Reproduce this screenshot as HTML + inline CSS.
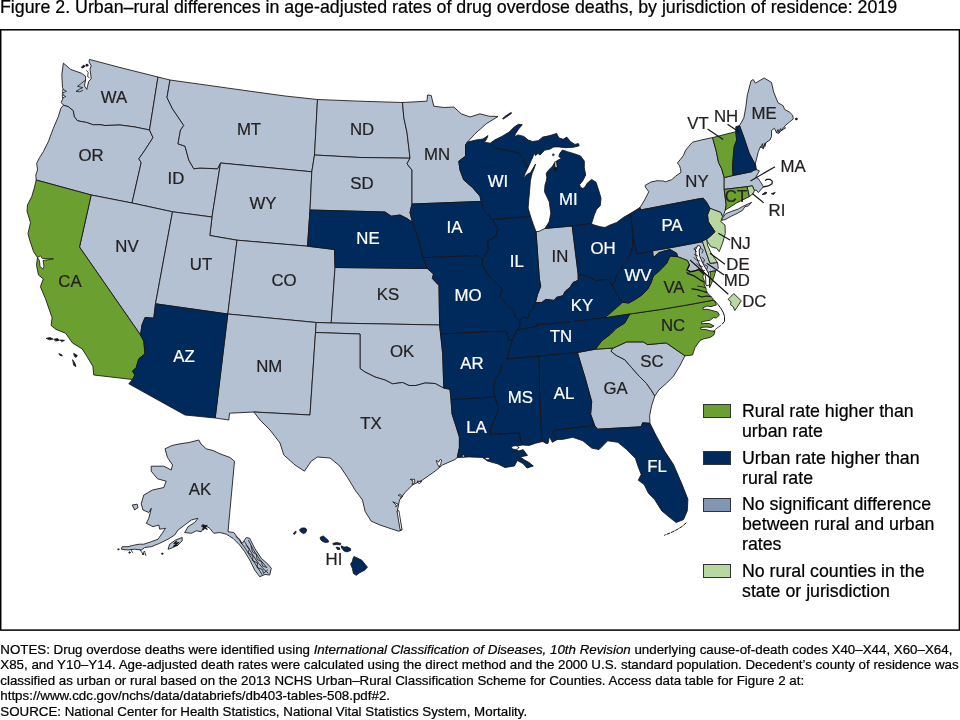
<!DOCTYPE html>
<html lang="en"><head><meta charset="utf-8"><title>Figure 2. Urban–rural differences in age-adjusted rates of drug overdose deaths</title>
<style>
html,body{margin:0;padding:0;background:#fff;}
body{-webkit-text-stroke:0.22px #000;width:960px;height:720px;position:relative;overflow:hidden;font-family:"Liberation Sans",Arial,sans-serif;color:#000;}
.t{position:absolute;left:0.3px;white-space:nowrap;}
#title{top:-3.2px;font-size:17.8px;line-height:20px;left:0px}
.n{font-size:13.345px;line-height:15.45px;}
svg{position:absolute;left:0;top:0;}
.lg{position:absolute;left:742px;font-size:17.75px;line-height:20px;white-space:nowrap;color:#000;}
.sw{position:absolute;left:703.2px;width:26px;height:12px;border:1px solid #333;}
</style></head><body>
<div class="t" id="title">Figure 2. Urban–rural differences in age-adjusted rates of drug overdose deaths, by jurisdiction of residence: 2019</div>
<svg width="960" height="720" viewBox="0 0 960 720">
<rect x="0.7" y="29.8" width="958.7" height="600.3" fill="none" stroke="#000" stroke-width="1.5"/>
<g stroke="#161214" stroke-width="0.85" stroke-linejoin="round">
<polygon points="89.4,59.4 120.0,67.5 158.0,77.0 149.5,130.0 135.0,127.0 120.0,125.0 105.0,125.5 100.0,124.7 93.3,124.8 86.7,122.5 77.5,120.8 74.2,116.7 73.3,110.8 68.3,106.7 63.5,105.2 61.2,102.5 63.7,96.5 62.5,93.0 64.5,91.0 62.5,87.5 61.8,75.0 63.4,63.1 70.6,69.4 81.2,73.1 85.6,76.2 85.5,80.0 84.5,86.0 86.9,89.4 87.5,86.2 88.8,81.2 91.2,78.8 90.6,73.1 90.0,69.4 91.2,65.6 89.0,61.9 89.4,59.4" fill="#b3c1d2"/>
<polygon points="63.5,105.2 68.3,106.7 73.3,110.8 74.2,116.7 77.5,120.8 86.7,122.5 93.3,124.8 100.0,124.7 105.0,125.5 120.0,125.0 135.0,127.0 149.5,130.0 153.0,137.5 145.0,150.0 138.8,158.8 141.2,162.5 132.0,203.0 91.2,195.0 36.2,180.0 35.8,175.0 37.5,170.0 36.7,163.3 39.2,158.3 43.3,151.7 48.3,141.7 53.3,128.3 58.3,116.7 60.8,108.3 63.5,105.2" fill="#b3c1d2"/>
<polygon points="158.0,77.0 170.0,80.0 167.0,97.5 172.5,108.8 183.8,125.5 180.5,130.0 178.0,143.8 185.0,146.2 188.8,160.0 193.8,168.8 200.0,168.0 217.5,168.8 220.5,163.0 212.0,217.0 172.5,211.8 132.0,203.0 141.2,162.5 138.8,158.8 145.0,150.0 153.0,137.5 149.5,130.0 158.0,77.0" fill="#b3c1d2"/>
<polygon points="170.0,80.0 200.0,84.2 250.0,91.2 285.0,96.0 317.5,99.5 314.5,155.0 311.8,171.8 220.5,163.0 217.5,168.8 200.0,168.0 193.8,168.8 188.8,160.0 185.0,146.2 178.0,143.8 180.5,130.0 183.8,125.5 172.5,108.8 167.0,97.5 170.0,80.0" fill="#b3c1d2"/>
<polygon points="220.5,163.0 311.8,171.8 310.0,210.0 307.5,246.2 237.0,240.2 209.8,235.5 212.0,217.0 220.5,163.0" fill="#b3c1d2"/>
<polygon points="317.5,99.5 360.0,101.2 402.5,102.5 403.8,117.5 407.0,132.5 408.8,147.5 410.0,158.2 360.0,157.5 314.5,155.0 317.5,99.5" fill="#b3c1d2"/>
<polygon points="314.5,155.0 360.0,157.5 410.0,158.2 407.0,163.8 412.0,170.0 412.0,204.0 410.0,212.5 412.5,222.5 407.5,218.8 400.0,215.0 391.2,216.2 385.0,212.0 310.0,210.0 311.8,171.8 314.5,155.0" fill="#b3c1d2"/>
<polygon points="91.2,195.0 132.0,203.0 172.5,211.8 155.5,303.8 153.8,318.2 145.0,317.5 142.0,325.0 140.5,335.0 79.5,247.0 91.2,195.0" fill="#b3c1d2"/>
<polygon points="172.5,211.8 212.0,217.0 209.8,235.5 237.0,240.2 227.8,314.0 155.5,303.8 172.5,211.8" fill="#b3c1d2"/>
<polygon points="237.0,240.2 307.5,246.2 334.5,249.5 335.0,267.5 331.2,323.0 316.2,322.5 227.8,314.0 237.0,240.2" fill="#b3c1d2"/>
<polygon points="227.8,314.0 316.2,322.5 315.5,332.5 310.0,415.0 253.8,412.0 229.5,413.2 228.8,420.0 215.2,418.0 227.8,314.0" fill="#b3c1d2"/>
<polygon points="335.0,267.5 427.3,268.5 433.5,274.0 432.4,278.5 439.0,285.5 439.6,325.0 331.2,323.0 335.0,267.5" fill="#b3c1d2"/>
<polygon points="316.2,322.5 331.2,323.0 439.6,325.0 440.6,334.0 442.7,353.8 443.8,388.1 435.0,383.5 425.0,383.0 416.0,385.5 409.0,385.5 402.5,382.5 392.5,383.8 385.0,380.0 375.0,377.0 365.0,372.0 360.0,368.5 360.0,334.0 315.5,332.5 316.2,322.5" fill="#b3c1d2"/>
<polygon points="315.5,332.5 360.0,334.0 360.0,368.5 365.0,372.0 375.0,377.0 385.0,380.0 392.5,383.8 402.5,382.5 409.0,385.5 416.0,385.5 425.0,383.0 435.0,383.5 443.8,388.1 450.0,389.2 451.0,399.6 452.1,414.2 456.2,426.7 459.4,437.1 459.4,447.5 457.3,457.5 455.0,459.5 442.5,465.0 435.0,471.2 422.5,480.0 412.5,485.0 405.0,492.5 399.5,500.0 397.5,510.0 400.0,520.0 402.0,530.0 398.8,531.2 391.2,528.8 380.0,525.0 371.2,521.2 365.0,511.2 362.5,500.0 355.0,490.0 347.5,477.5 340.0,466.2 330.0,458.0 317.5,457.0 311.2,461.2 304.5,471.2 295.0,465.0 283.8,455.0 280.0,443.0 270.0,430.0 260.0,420.0 253.8,412.0 310.0,415.0 315.5,332.5" fill="#b3c1d2"/>
<polygon points="402.5,102.5 427.0,101.2 427.5,95.0 431.2,95.5 433.8,106.2 443.8,107.5 453.8,107.0 461.2,113.8 470.0,117.0 480.0,113.8 488.8,116.2 498.0,116.5 486.2,123.8 475.0,133.8 467.5,142.0 465.5,145.0 465.5,156.2 458.8,161.2 460.0,170.0 463.8,180.0 472.5,187.5 480.0,196.2 481.2,201.4 412.0,204.0 412.0,170.0 407.0,163.8 410.0,158.2 408.8,147.5 407.0,132.5 403.8,117.5 402.5,102.5" fill="#b3c1d2"/>
<polygon points="536.0,231.7 539.2,231.3 545.0,228.4 572.2,226.0 578.2,274.5 578.2,280.3 573.0,282.6 570.0,287.5 565.5,291.0 562.8,295.8 556.5,297.4 554.2,300.4 545.8,299.4 541.7,302.5 535.4,302.5 537.5,294.5 540.7,286.2 539.4,279.0 536.0,231.7" fill="#b3c1d2"/>
<polygon points="577.4,352.5 595.4,349.2 613.1,348.1 611.0,351.2 616.2,355.4 624.6,359.6 631.9,367.9 639.2,376.2 646.5,383.5 651.7,390.8 654.8,396.0 651.7,405.4 649.6,415.8 650.0,423.3 642.7,422.8 641.2,426.8 597.5,429.2 594.7,425.7 590.6,414.2 591.7,401.7 585.4,378.8 577.4,352.5" fill="#b3c1d2"/>
<polygon points="613.1,348.1 626.7,341.9 643.3,341.9 647.5,344.6 666.2,342.9 685.0,355.8 679.8,365.8 673.5,376.2 666.2,383.5 659.0,389.8 654.8,396.0 651.7,390.8 646.5,383.5 639.2,376.2 631.9,367.9 624.6,359.6 616.2,355.4 611.0,351.2 613.1,348.1" fill="#b3c1d2"/>
<polygon points="652.5,250.8 670.0,247.8 702.5,241.7 710.0,263.3 717.5,262.5 718.3,268.3 715.8,270.8 710.0,271.7 707.0,273.0 703.5,273.8 698.8,269.6 693.8,271.2 690.5,271.6 686.9,270.0 689.4,265.0 687.5,260.6 682.5,258.5 677.5,256.7 676.7,253.3 670.0,249.5 665.0,250.8 659.2,252.5 653.3,257.5 652.5,250.8" fill="#b3c1d2"/>
<polygon points="640.0,207.5 644.6,200.0 648.8,191.7 645.6,187.5 645.1,185.4 650.8,182.1 657.1,180.7 663.3,181.0 665.4,181.8 671.7,179.7 675.8,176.0 681.0,172.4 680.5,168.8 679.5,165.6 677.4,163.0 680.0,159.9 683.6,155.2 685.2,151.0 688.3,146.9 692.5,142.2 702.9,139.6 712.6,137.6 716.5,152.1 718.5,162.5 721.7,168.8 724.2,177.5 724.2,189.4 726.2,205.0 725.2,210.2 724.0,214.0 722.5,216.5 720.8,212.5 710.0,208.3 706.7,202.5 703.3,198.3 700.2,198.6 640.5,210.0 640.0,207.5" fill="#b3c1d2"/>
<polygon points="722.3,218.4 725.8,213.6 732.0,211.2 738.3,209.0 742.5,206.5 751.7,202.3 748.3,206.0 745.0,206.6 742.5,210.4 737.0,213.5 731.7,216.0 725.0,219.6 722.0,220.2" fill="#b3c1d2"/>
<polygon points="739.5,125.6 743.8,118.1 745.9,106.5 747.4,94.8 751.0,80.9 753.2,79.5 755.4,83.1 764.2,78.0 771.5,82.4 773.6,91.9 778.0,102.8 783.1,105.7 784.6,109.4 789.7,112.3 792.6,115.2 793.3,118.9 789.7,121.8 784.6,126.1 785.3,128.3 781.5,130.0 778.8,133.4 776.6,132.7 774.4,128.3 771.5,130.5 771.5,136.4 770.0,140.0 766.4,142.2 764.8,145.0 763.4,148.8 760.5,146.5 758.3,151.7 756.9,157.5 755.4,163.3 755.8,166.5 755.0,164.2 749.2,153.3 744.2,138.3 739.5,125.6" fill="#b3c1d2"/>
<polygon points="724.2,177.5 733.0,175.5 751.7,171.7 754.0,170.0 756.5,169.6 759.4,170.8 757.5,174.2 755.8,177.3 758.3,178.5 760.4,181.7 763.4,186.7 760.6,190.0 758.3,192.6 756.3,190.0 754.4,190.4 752.3,185.8 747.1,186.7 724.2,189.4 724.2,177.5" fill="#b3c1d2"/>
<polygon points="165.0,448.8 172.0,445.5 180.0,443.8 189.0,442.5 198.8,440.0 201.0,444.0 206.2,448.8 213.0,450.5 220.0,453.8 230.0,457.5 234.5,461.2 228.0,531.7 233.8,532.5 238.0,538.3 242.2,543.3 246.3,537.5 249.7,538.3 254.7,548.3 261.3,558.3 268.0,564.2 271.3,568.3 269.7,575.0 265.0,574.5 259.7,576.7 254.7,570.0 249.7,560.0 244.7,551.7 239.7,545.0 233.0,538.3 226.3,534.2 219.7,532.5 213.8,533.3 209.7,528.3 204.7,525.0 201.3,531.7 196.3,530.8 191.3,533.3 184.7,532.5 188.0,526.7 194.7,522.5 198.0,518.3 191.3,520.0 184.7,525.0 178.0,530.0 174.7,535.0 168.0,539.2 159.7,543.3 151.3,546.7 144.7,547.5 141.3,550.0 134.7,549.2 128.0,550.0 121.3,549.2 122.2,546.7 128.0,546.7 134.7,545.0 139.7,544.2 143.8,544.2 151.3,541.7 158.0,539.2 162.2,533.3 165.5,528.3 159.7,529.2 158.8,525.0 153.0,526.7 146.3,523.3 148.8,518.3 151.3,508.3 148.8,512.5 143.0,510.0 141.2,503.8 143.8,495.0 152.5,490.0 163.8,487.5 166.2,481.2 157.5,478.8 151.2,471.2 151.2,466.2 163.8,466.2 171.2,470.0 172.5,465.0 167.5,457.5" fill="#b3c1d2"/>
<polygon points="169.7,544.2 175.5,540.0 182.2,537.5 182.2,540.8 178.0,545.0 171.3,548.3 168.0,549.2" fill="#b3c1d2"/>
<polygon points="132.2,505.0 137.2,504.2 138.0,507.5 134.7,510.0" fill="#b3c1d2"/>
<polygon points="702.5,241.7 704.0,240.0 706.7,239.2 707.5,245.0 710.8,252.5 715.8,260.0 717.5,262.5 710.0,263.3 702.5,241.7" fill="#b9d7a0"/>
<polygon points="710.0,208.3 720.8,212.5 722.5,216.5 720.8,221.7 725.0,225.0 725.3,233.3 722.5,243.3 719.2,251.7 716.7,248.3 710.8,246.7 707.5,241.7 706.7,239.2 710.8,235.8 715.0,231.7 713.3,229.2 708.3,221.7 707.5,215.0 710.0,208.3" fill="#b9d7a0"/>
<polygon points="747.1,186.7 752.3,185.8 754.4,190.4 753.3,193.5 749.2,196.7 747.1,186.7" fill="#b9d7a0"/>
<polygon points="36.2,180.0 91.2,195.0 79.5,247.0 140.5,335.0 143.8,341.2 145.0,353.8 138.8,358.8 136.2,367.5 132.5,371.2 135.0,375.0 132.5,379.5 93.8,375.0 92.9,366.4 87.1,356.6 82.2,348.9 72.5,343.0 65.7,333.3 56.0,329.4 51.1,325.5 52.1,317.8 50.1,311.9 45.3,298.3 40.4,286.7 43.3,278.9 38.5,275.0 36.5,265.3 37.5,257.5 33.6,251.7 29.7,240.0 28.0,233.8 30.5,222.5 27.0,211.2 27.5,205.0 31.7,196.7 34.2,188.3 36.2,180.0" fill="#6b9f30"/>
<polygon points="629.8,314.0 660.0,309.6 690.0,304.5 713.1,300.2 714.6,300.6 716.3,305.0 711.0,306.6 707.0,306.0 703.0,307.8 703.2,309.6 707.0,309.2 711.0,310.2 717.5,311.9 719.4,315.0 716.3,318.1 713.5,317.5 710.0,320.3 705.0,321.0 701.5,322.0 701.7,323.8 706.0,323.4 709.5,323.6 714.0,326.0 711.0,327.5 706.0,327.0 700.6,327.5 700.8,329.3 706.0,329.6 710.0,330.8 715.0,331.2 713.8,335.0 710.0,337.5 703.8,338.8 700.0,340.5 695.0,347.5 692.5,355.0 685.0,355.8 666.2,342.9 647.5,344.6 643.3,341.9 626.7,341.9 613.1,348.1 595.4,349.2 601.7,340.8 610.0,334.6 616.2,328.3 624.6,323.1 629.8,314.0" fill="#6b9f30"/>
<polygon points="604.8,317.9 614.2,309.6 622.5,302.3 628.8,303.0 635.0,299.5 642.0,295.0 647.5,289.5 650.8,283.3 653.3,276.0 657.0,273.0 662.0,268.3 666.7,263.3 670.0,256.0 677.5,256.7 682.5,258.5 687.5,260.6 689.4,265.0 686.9,270.0 690.5,271.6 693.8,271.2 698.8,269.6 703.5,273.8 702.8,277.0 704.4,281.2 704.2,285.0 706.0,288.0 706.2,290.5 708.0,293.8 711.0,296.5 713.0,298.8 713.1,300.2 690.0,304.5 660.0,309.6 629.8,314.0 604.8,317.9" fill="#6b9f30"/>
<polygon points="710.3,271.7 715.8,270.8 714.0,276.7 711.6,283.3 709.6,287.6 709.4,283.3 710.0,277.0" fill="#6b9f30"/>
<polygon points="712.6,137.6 735.8,131.7 736.7,140.0 734.2,146.7 733.3,156.7 732.5,166.7 733.0,175.5 724.2,177.5 721.7,168.8 718.5,162.5 716.5,152.1 712.6,137.6" fill="#6b9f30"/>
<polygon points="724.2,189.4 747.1,186.7 749.2,196.7 736.7,202.9 725.2,210.2 726.2,205.0 724.2,189.4" fill="#6b9f30"/>
<polygon points="310.0,210.0 385.0,212.0 391.2,216.2 400.0,215.0 407.5,218.8 412.5,222.5 415.0,229.6 418.0,237.0 420.0,245.0 421.5,251.5 423.0,257.7 427.3,268.5 335.0,267.5 334.5,249.5 307.5,246.2 310.0,210.0" fill="#012a5c"/>
<polygon points="155.5,303.8 227.8,314.0 215.2,418.0 185.0,415.0 128.8,383.8 132.5,379.5 135.0,375.0 132.5,371.2 136.2,367.5 138.8,358.8 145.0,353.8 143.8,341.2 140.5,335.0 142.0,325.0 145.0,317.5 153.8,318.2 155.5,303.8" fill="#012a5c"/>
<polygon points="412.0,204.0 481.2,201.4 484.0,210.5 492.3,219.6 497.9,228.5 495.8,236.9 487.5,241.0 488.5,249.4 482.5,259.5 478.1,255.6 423.0,257.7 421.5,251.5 420.0,245.0 418.0,237.0 415.0,229.6 412.5,222.5 410.0,212.5 412.0,204.0" fill="#012a5c"/>
<polygon points="423.0,257.7 478.1,255.6 482.5,259.5 482.3,265.0 487.5,273.3 494.8,281.7 500.0,286.9 502.1,290.0 500.0,296.2 506.2,303.5 513.5,310.8 515.6,317.1 519.8,320.2 519.8,327.0 517.0,330.0 512.5,339.5 507.3,340.2 508.3,337.5 506.2,331.2 440.6,334.0 439.6,325.0 439.0,285.5 432.4,278.5 433.5,274.0 427.3,268.5 423.0,257.7" fill="#012a5c"/>
<polygon points="440.6,334.0 506.2,331.2 508.3,337.5 507.3,340.2 512.5,339.5 509.4,349.6 507.3,359.0 502.1,364.2 500.0,372.5 494.8,380.8 493.8,390.2 494.8,397.1 451.0,399.6 450.0,389.2 443.8,388.1 442.7,353.8 440.6,334.0" fill="#012a5c"/>
<polygon points="451.0,399.6 494.8,397.1 497.9,405.8 497.9,412.1 493.8,420.4 490.6,428.8 490.0,434.4 519.5,433.0 520.8,441.2 522.5,445.0 516.0,446.0 512.9,448.5 519.0,451.0 523.1,449.6 527.5,455.4 520.2,456.9 524.6,460.0 529.0,462.5 533.3,466.0 527.0,468.0 523.0,463.5 517.3,460.5 514.4,466.0 505.0,467.5 497.5,463.8 487.5,461.0 482.5,457.5 469.2,456.9 457.3,457.5 459.4,447.5 459.4,437.1 456.2,426.7 452.1,414.2 451.0,399.6" fill="#012a5c"/>
<polygon points="467.5,142.0 476.0,140.0 483.0,139.0 488.0,135.6 486.5,139.3 484.4,142.2 490.2,143.2 494.6,148.0 506.2,150.2 515.0,152.2 519.4,153.4 521.9,156.2 524.4,158.8 523.8,161.9 526.2,164.4 527.8,168.1 525.0,173.8 523.4,178.1 527.5,174.1 530.6,172.5 533.8,166.9 535.6,164.1 533.8,169.4 532.2,173.1 531.2,176.9 530.3,181.2 530.0,186.0 528.9,198.3 528.1,208.0 530.6,216.5 492.3,219.6 484.0,210.5 481.2,201.4 480.0,196.2 472.5,187.5 463.8,180.0 460.0,170.0 458.8,161.2 465.5,156.2 465.5,145.0 467.5,142.0" fill="#012a5c"/>
<polygon points="492.3,219.6 530.6,216.5 533.3,224.5 536.0,231.7 539.4,279.0 540.7,286.2 537.5,294.5 535.4,302.5 533.3,308.8 529.2,312.9 528.1,318.1 522.9,317.1 519.8,320.2 515.6,317.1 513.5,310.8 506.2,303.5 500.0,296.2 502.1,290.0 500.0,286.9 494.8,281.7 487.5,273.3 482.3,265.0 482.5,259.5 488.5,249.4 487.5,241.0 495.8,236.9 497.9,228.5 492.3,219.6" fill="#012a5c"/>
<polygon points="490.2,143.2 494.6,140.0 501.9,136.4 509.2,132.0 514.3,126.9 518.6,124.2 522.3,124.7 518.6,129.0 515.7,133.4 514.3,137.0 517.9,134.9 523.8,136.4 528.1,140.0 532.5,141.5 538.3,140.7 542.7,137.1 550.0,135.6 556.6,133.4 558.8,137.8 563.1,139.3 566.8,137.1 570.4,141.5 574.8,144.4 578.4,143.6 579.2,145.8 573.3,147.3 564.6,147.7 558.8,146.9 553.8,146.9 550.0,149.1 544.4,150.3 542.5,152.5 540.0,155.0 538.1,153.4 535.3,155.6 534.4,152.5 533.1,156.2 531.2,160.6 527.8,168.1 526.2,164.4 523.8,161.9 524.4,158.8 521.9,156.2 519.4,153.4 515.0,152.2 506.2,150.2 494.6,148.0 490.2,143.2" fill="#012a5c"/>
<polygon points="545.0,228.4 549.2,221.7 550.8,213.3 549.2,201.7 544.5,191.7 545.0,185.0 546.2,181.2 546.9,177.5 546.2,173.8 547.5,171.2 550.0,168.8 552.5,166.2 554.4,163.1 556.2,161.2 558.1,160.0 561.2,158.8 558.8,156.2 560.0,153.1 562.5,150.0 567.5,151.7 574.8,153.9 580.6,156.0 584.3,161.1 584.3,167.7 585.7,175.0 582.6,181.0 579.6,184.6 580.3,187.0 582.8,188.6 585.0,187.0 587.2,183.2 591.6,179.4 596.0,182.3 598.9,191.0 601.0,198.3 600.3,205.6 596.7,209.2 594.2,215.0 592.5,220.8 591.3,223.7 572.2,226.0 545.0,228.4" fill="#012a5c"/>
<polygon points="572.2,226.0 591.3,223.7 594.2,225.0 600.0,226.7 605.0,227.5 610.0,225.0 616.7,222.5 623.3,217.5 630.6,213.3 633.3,237.5 633.0,243.3 631.7,251.7 627.5,260.0 622.5,265.0 620.8,270.8 616.7,275.0 615.0,281.7 612.0,285.0 606.7,279.2 601.7,280.0 595.8,280.8 590.0,277.5 585.0,275.8 578.2,274.5 572.2,226.0" fill="#012a5c"/>
<polygon points="519.8,320.2 522.9,317.1 528.1,318.1 529.2,312.9 533.3,308.8 535.4,302.5 541.7,302.5 545.8,299.4 554.2,300.4 556.5,297.4 562.8,295.8 565.5,291.0 570.0,287.5 573.0,282.6 578.2,280.3 578.2,274.5 585.0,275.8 590.0,277.5 595.8,280.8 601.7,280.0 606.7,279.2 612.0,285.0 616.2,292.9 622.5,302.3 614.2,309.6 604.8,317.9 560.0,323.0 536.5,324.6 536.5,326.7 517.0,330.0 519.8,327.0 519.8,320.2" fill="#012a5c"/>
<polygon points="517.0,330.0 536.5,326.7 536.5,324.6 560.0,323.0 604.8,317.9 629.8,314.0 624.6,323.1 616.2,328.3 610.0,334.6 601.7,340.8 595.4,349.2 577.4,352.5 539.2,356.2 507.3,359.0 509.4,349.6 512.5,339.5 517.0,330.0" fill="#012a5c"/>
<polygon points="507.3,359.0 539.2,356.2 539.6,393.3 541.7,435.0 542.7,441.5 535.4,443.3 529.2,445.4 522.5,445.0 520.8,441.2 519.5,433.0 490.0,434.4 490.6,428.8 493.8,420.4 497.9,412.1 497.9,405.8 494.8,397.1 493.8,390.2 494.8,380.8 500.0,372.5 502.1,364.2 507.3,359.0" fill="#012a5c"/>
<polygon points="539.2,356.2 577.4,352.5 585.4,378.8 591.7,401.7 590.6,414.2 594.7,425.7 554.5,430.2 553.1,432.9 557.5,439.4 552.3,442.3 549.4,436.5 548.0,443.5 545.8,443.3 542.7,441.5 541.7,435.0 539.6,393.3 539.2,356.2" fill="#012a5c"/>
<polygon points="557.5,439.4 553.1,432.9 554.5,430.2 594.7,425.7 597.5,429.2 641.2,426.8 642.7,422.8 650.0,423.3 655.8,435.0 664.6,451.0 673.3,464.2 682.1,484.6 687.9,499.2 687.3,510.8 683.5,519.6 676.2,522.5 670.4,518.1 661.7,510.8 654.4,499.2 648.5,493.3 644.2,484.6 638.3,480.2 641.2,474.4 638.3,467.1 635.4,458.3 626.7,449.6 617.9,442.3 607.7,440.8 599.0,449.6 591.7,448.1 582.9,440.8 572.7,437.3 562.5,439.4 557.5,439.4" fill="#012a5c"/>
<polygon points="633.3,237.5 633.0,243.3 631.7,251.7 627.5,260.0 622.5,265.0 620.8,270.8 616.7,275.0 615.0,281.7 612.0,285.0 616.2,292.9 622.5,302.3 628.8,303.0 635.0,299.5 642.0,295.0 647.5,289.5 650.8,283.3 653.3,276.0 657.0,273.0 662.0,268.3 666.7,263.3 670.0,256.0 677.5,256.7 676.7,253.3 670.0,249.5 665.0,250.8 659.2,252.5 653.3,257.5 652.5,250.8 636.7,253.8 633.3,237.5" fill="#012a5c"/>
<polygon points="630.6,213.3 640.0,207.5 640.5,210.0 700.2,198.6 703.3,198.3 706.7,202.5 710.0,208.3 707.5,215.0 708.3,221.7 713.3,229.2 715.0,231.7 710.8,235.8 706.7,239.2 704.0,240.0 702.5,241.7 670.0,247.8 652.5,250.8 636.7,253.8 633.3,237.5 630.6,213.3" fill="#012a5c"/>
<polygon points="735.8,131.7 735.8,126.7 739.5,125.6 744.2,138.3 749.2,153.3 755.0,164.2 755.8,166.5 756.5,169.6 754.0,170.0 751.7,171.7 733.0,175.5 732.5,166.7 733.3,156.7 734.2,146.7 736.7,140.0 735.8,131.7" fill="#012a5c"/>
<polygon points="353.9,556.6 356.2,557.5 361.9,560.3 365.6,565.0 367.5,566.9 364.7,570.2 360.0,572.5 356.2,575.3 353.4,573.4 352.5,568.8 350.6,564.0 352.5,561.2 353.0,558.4" fill="#012a5c"/>
<polygon points="341.2,545.8 344.0,547.2 346.9,546.7 350.6,548.6 350.6,550.5 346.9,551.9 344.0,550.9 341.7,548.1" fill="#012a5c"/>
<polygon points="332.8,543.4 336.6,542.5 340.8,543.4 340.3,544.8 336.6,544.6 333.3,544.8" fill="#012a5c"/>
<polygon points="336.1,547.2 339.4,547.7 339.8,549.5 337.5,549.5" fill="#012a5c"/>
<polygon points="320.2,537.3 323.4,535.9 325.8,538.3 328.1,540.2 328.6,542.0 325.3,542.5 322.0,541.1 320.4,539.2" fill="#012a5c"/>
<polygon points="299.5,529.8 301.9,528.0 305.2,528.0 306.8,529.8 305.6,532.7 303.3,533.6 300.5,531.7" fill="#012a5c"/>
<polygon points="293.2,533.6 295.8,531.0 296.2,532.0 294.4,534.5" fill="#012a5c"/>
</g>
<g stroke="#161214" stroke-width="0.8" stroke-linejoin="round" stroke-linecap="round" fill="none">
<!-- San Francisco Bay -->
<polygon points="37.6,257.4 40.5,255.8 42.3,258.5 53.5,258.8 43,260.5 44,266 42.8,269 40,266.5 39.5,261" fill="#fff"/>
<!-- Channel Islands -->
<polygon points="46.5,338.3 50,337.6 53,339 50,339.8" fill="#161214"/>
<polygon points="54,339.2 57.5,338.6 59.5,340.2 56,341" fill="#161214"/>
<polygon points="60.5,340 64.5,340.3 62,341.6" fill="#161214"/>
<polygon points="59.2,353.7 61.6,354.6 62.3,356 60,355.3" fill="#161214"/>
<polygon points="74,353.5 77.3,355.5 76,357.5 74.3,356" fill="#161214"/>
<polygon points="72.8,360 74.8,363 76,366.5 74,365.5" fill="#161214"/>
<!-- Puget Sound islands and Hood Canal -->
<circle cx="83.7" cy="66.3" r="1" fill="#161214"/><circle cx="86.9" cy="65.2" r="1.1" fill="#161214"/><circle cx="82.2" cy="67.3" r="0.7" fill="#161214"/>
<polyline points="85.6,80 80.5,84 77.5,86.3 82.8,87.6 79,89.5 76,91.4 79.5,91.8 82.5,90.5"/>
<polyline points="86.6,70.5 88.2,72.5 87.6,76.5 89.2,77.5"/>
<!-- Willapa / Grays -->
<polygon points="63,89.6 66.5,91.3 63.2,92.6" fill="#fff"/>
<polygon points="62.6,94.7 65.8,96.6 62.8,97.6" fill="#fff"/>
<!-- Isle Royale -->
<polygon points="502.8,118.3 506.5,115.3 511.2,112.4 511.6,113.3 507,116.6 503.3,119" fill="#012a5c"/>
<!-- Grand Traverse Bay -->
<polygon points="555,161.7 556.6,162.4 557,166.4 555.8,168.6 554.9,166" fill="#fff" stroke="none"/>
<polyline points="555,161.7 554.9,166 555.8,168.6 557,166.4 556.6,162.4"/>
<ellipse cx="555.2" cy="169.2" rx="0.9" ry="1.6" fill="#161214"/>
<ellipse cx="553.2" cy="154.8" rx="0.7" ry="1.2" fill="#fff"/>
<!-- Saginaw etc fine -->
<!-- Lake St Clair notch -->
<!-- Chesapeake Bay -->
<polyline points="698.6,247.5 697.3,250 697.8,256 700.3,262 703.4,268 706.6,273.5 707.6,279 707.4,284" stroke-width="4.4"/>
<polyline points="698.6,247.5 697.3,250 697.8,256 700.3,262 703.4,268 706.6,273.5 707.6,279 707.6,284" stroke="#fff" stroke-width="2.7"/>
<polyline points="696.6,251.5 693.8,249 695.5,247.5"/>
<polyline points="697.8,256 694.5,254.5"/>
<polyline points="699.8,261 696.3,260 694,257.6"/>
<polyline points="702.4,266.5 699,265.8 697,263.6"/>
<polyline points="704.5,270.5 700.5,270.2 698.5,268.3"/>
<polyline points="701,248.5 703.3,250.3 702,253"/>
<polyline points="702,257.5 704.5,259.5 703.6,262.5"/>
<polyline points="705,264.8 707.6,266.3 707,269"/>
<!-- Potomac -->
<polyline points="703.5,273.75 698.75,269.6 693.75,271.25 690.5,271.6 686.9,270 689.4,265" stroke-width="1.3"/>
<polyline points="690.5,271.6 688.5,273.2 686.5,272.4"/>
<!-- VA rivers -->
<polyline points="704,282 699.5,279.6 695,276.4 691,274.6 687.5,273.6" stroke-width="1.2"/>
<polyline points="705,287.5 701,286.6 697.5,286"/>
<polyline points="706.4,292.4 702,291 697.5,289.6 692,288.8" stroke-width="1.2"/>
<polyline points="711,296.5 706.5,296 702,297 698,295.6" stroke-width="1.2"/>
<!-- Outer Banks -->
<polyline points="714.4,300.6 718,304.5 721.2,308.8 723.5,313 724.5,316.5 724.5,321.3 722.3,324" stroke-width="1"/>
<polyline points="720.6,325.6 716.3,328.6 713.6,331.8" stroke-width="0.9" stroke-dasharray="2.5 1"/>
<!-- Cape Cod -->
<polyline points="763.3,186.9 768.3,185.9 772.1,183.8 772.2,181.2 770.2,179.4 766.8,179.3 765.6,180.3" stroke-width="1.15"/>
<polygon points="762.4,194.3 765.2,192.3 767,192.6 765.6,194" fill="#161214"/>
<polygon points="771.6,193.6 775.2,192.4 773.8,194.2" fill="#161214"/>
<!-- Maine coast -->
<polyline points="776.2,132.8 778,129.5 778.9,132.6 780.6,128.6 781.6,131 783.4,127.6"/>
<polyline points="760.6,147.6 762.6,143.6 763,147.8 765.2,142.8 765.4,146"/>
<circle cx="796.3" cy="119" r="0.9" fill="#161214"/>
<!-- Florida Keys -->
<polyline points="686,523 682,526.5 677,529.6 671,532.6 664.5,535.2" stroke-dasharray="3.2 1.6" stroke-width="1"/>
<!-- Louisiana lakes -->
<ellipse cx="515.2" cy="447.6" rx="3.6" ry="1.9" fill="#fff"/>
<ellipse cx="487.6" cy="458.6" rx="2.4" ry="1.2" fill="#fff"/>
<ellipse cx="463.5" cy="456" rx="1.3" ry="1" fill="#fff"/>
<!-- Texas bays -->
<polygon points="436.6,460.6 438.6,462.2 440.2,459.4 441.6,460 440.8,463.6 439.2,467 437.6,464.4" fill="#fff"/>
<polygon points="397.3,511 398.9,510.6 401.8,528.6 400.5,530" fill="#fff"/>
<polygon points="398.5,495.5 401.5,496.5 400.5,498.8 403,496 400,494.5" fill="#fff"/>
<polygon points="393,502 396.5,505.5 395.6,507 398,504.5" fill="#fff"/>
<polygon points="410.5,479.5 413,481 412,484.5 414.8,482.3 414.6,479.7" fill="#fff"/>
<polygon points="417.5,481.5 419,483.8 421.5,481.8" fill="#fff"/>
<!-- Mobile Bay -->
<!-- Alaska panhandle islands -->
<polyline points="240,541 246,549.5 252,559 258,568 262,574.5"/>
<polyline points="244.5,541.5 250,550.5 256,560 263,568.5 268,573"/>
<polyline points="248.5,540.5 253.5,550 259.5,559 266,566.5"/>
<polyline points="246,545.5 249.5,549 248,552.5 253,556 252.5,560.5 257.5,563 257,567.5 262.5,569.5 263.5,573.5 267.5,570"/>
<polyline points="251,546 252.5,552 256.5,554.5 257,559.5 261.5,561.5 262.5,566 267,567.5"/>
<polyline points="236,536.5 240,539.5 241.5,543.5"/>
<polygon points="203.3,524.6 205,526.2 207.2,525 205.8,527.3 207.4,529.4 204.8,528.5 203,530.3 203.6,527.5 201.6,526.2" fill="#161214"/>
<polyline points="176.5,541.2 174,543.5 178.5,542.5 173.5,546.3 177.5,545.2" stroke-width="1.1"/>
<circle cx="162.2" cy="553.7" r="0.7" fill="#161214"/><circle cx="129.5" cy="552.5" r="0.7" fill="#161214"/><circle cx="143" cy="554" r="0.7" fill="#161214"/><circle cx="118.3" cy="549.3" r="0.6" fill="#161214"/>
<polyline points="140,549.5 142.5,553.5 144.5,551 145.8,555.5"/>
<polyline points="131,549.8 132.5,552.5"/>
</g>

<g stroke="#161214" stroke-width="1.15"><line x1="707.5" y1="129" x2="723.1" y2="139.4"/><line x1="727.5" y1="124.2" x2="739.5" y2="132.3"/><line x1="775" y1="166.7" x2="750.5" y2="181"/><line x1="763.75" y1="202.9" x2="752.3" y2="193.5"/><line x1="730" y1="240" x2="718.3" y2="233.3"/><line x1="725" y1="264.2" x2="710" y2="253.3"/><line x1="724.2" y1="275" x2="706.7" y2="263.3"/><line x1="728.3" y1="294.2" x2="690" y2="260"/></g>
<polygon points="728,299.4 733.75,293.6 741.3,300.8 734.8,310.6 733.2,306.6 730.5,304.8 731,301.8" fill="#b9d7a0" stroke="#161214" stroke-width="0.85" stroke-linejoin="round"/>
<g font-family="'Liberation Sans',Arial,sans-serif" font-size="16.8" text-anchor="middle">
<text x="114.00" y="103.0" fill="#231f20" stroke="#231f20" stroke-width="0.22">WA</text>
<text x="91.00" y="161.0" fill="#231f20" stroke="#231f20" stroke-width="0.22">OR</text>
<text x="176.00" y="184.0" fill="#231f20" stroke="#231f20" stroke-width="0.22">ID</text>
<text x="249.00" y="135.0" fill="#231f20" stroke="#231f20" stroke-width="0.22">MT</text>
<text x="263.00" y="209.0" fill="#231f20" stroke="#231f20" stroke-width="0.22">WY</text>
<text x="362.00" y="135.0" fill="#231f20" stroke="#231f20" stroke-width="0.22">ND</text>
<text x="362.00" y="189.0" fill="#231f20" stroke="#231f20" stroke-width="0.22">SD</text>
<text x="437.00" y="160.0" fill="#231f20" stroke="#231f20" stroke-width="0.22">MN</text>
<text x="368.00" y="244.0" fill="#fff" stroke="#fff" stroke-width="0.22">NE</text>
<text x="284.00" y="286.0" fill="#231f20" stroke="#231f20" stroke-width="0.22">CO</text>
<text x="201.00" y="270.0" fill="#231f20" stroke="#231f20" stroke-width="0.22">UT</text>
<text x="127.00" y="252.0" fill="#231f20" stroke="#231f20" stroke-width="0.22">NV</text>
<text x="70.00" y="287.0" fill="#231f20" stroke="#231f20" stroke-width="0.22">CA</text>
<text x="184.00" y="362.0" fill="#fff" stroke="#fff" stroke-width="0.22">AZ</text>
<text x="269.20" y="372.0" fill="#231f20" stroke="#231f20" stroke-width="0.22">NM</text>
<text x="388.00" y="300.0" fill="#231f20" stroke="#231f20" stroke-width="0.22">KS</text>
<text x="402.00" y="357.0" fill="#231f20" stroke="#231f20" stroke-width="0.22">OK</text>
<text x="371.00" y="429.0" fill="#231f20" stroke="#231f20" stroke-width="0.22">TX</text>
<text x="200.00" y="495.0" fill="#231f20" stroke="#231f20" stroke-width="0.22">AK</text>
<text x="334.00" y="565.0" fill="#231f20" stroke="#231f20" stroke-width="0.22">HI</text>
<text x="454.50" y="233.0" fill="#fff" stroke="#fff" stroke-width="0.22">IA</text>
<text x="468.00" y="301.0" fill="#fff" stroke="#fff" stroke-width="0.22">MO</text>
<text x="472.00" y="369.0" fill="#fff" stroke="#fff" stroke-width="0.22">AR</text>
<text x="476.40" y="433.0" fill="#fff" stroke="#fff" stroke-width="0.22">LA</text>
<text x="498.00" y="187.0" fill="#fff" stroke="#fff" stroke-width="0.22">WI</text>
<text x="516.80" y="267.0" fill="#fff" stroke="#fff" stroke-width="0.22">IL</text>
<text x="520.25" y="403.0" fill="#fff" stroke="#fff" stroke-width="0.22">MS</text>
<text x="568.30" y="205.0" fill="#fff" stroke="#fff" stroke-width="0.22">MI</text>
<text x="560.00" y="262.0" fill="#231f20" stroke="#231f20" stroke-width="0.22">IN</text>
<text x="582.00" y="311.0" fill="#fff" stroke="#fff" stroke-width="0.22">KY</text>
<text x="561.00" y="342.0" fill="#fff" stroke="#fff" stroke-width="0.22">TN</text>
<text x="564.00" y="399.0" fill="#fff" stroke="#fff" stroke-width="0.22">AL</text>
<text x="603.00" y="254.0" fill="#fff" stroke="#fff" stroke-width="0.22">OH</text>
<text x="638.00" y="281.0" fill="#fff" stroke="#fff" stroke-width="0.22">WV</text>
<text x="674.00" y="293.0" fill="#231f20" stroke="#231f20" stroke-width="0.22">VA</text>
<text x="673.00" y="331.0" fill="#231f20" stroke="#231f20" stroke-width="0.22">NC</text>
<text x="652.00" y="367.0" fill="#231f20" stroke="#231f20" stroke-width="0.22">SC</text>
<text x="615.60" y="394.0" fill="#231f20" stroke="#231f20" stroke-width="0.22">GA</text>
<text x="657.00" y="472.0" fill="#fff" stroke="#fff" stroke-width="0.22">FL</text>
<text x="672.00" y="231.0" fill="#fff" stroke="#fff" stroke-width="0.22">PA</text>
<text x="697.00" y="187.0" fill="#231f20" stroke="#231f20" stroke-width="0.22">NY</text>
<text x="764.00" y="119.0" fill="#231f20" stroke="#231f20" stroke-width="0.22">ME</text>
<text x="698.00" y="129.0" fill="#231f20" stroke="#231f20" stroke-width="0.22">VT</text>
<text x="726.00" y="122.0" fill="#231f20" stroke="#231f20" stroke-width="0.22">NH</text>
<text x="793.00" y="172.0" fill="#231f20" stroke="#231f20" stroke-width="0.22">MA</text>
<text x="736.00" y="201.8" fill="#231f20" stroke="#231f20" stroke-width="0.22">CT</text>
<text x="777.00" y="216.0" fill="#231f20" stroke="#231f20" stroke-width="0.22">RI</text>
<text x="740.50" y="249.0" fill="#231f20" stroke="#231f20" stroke-width="0.22">NJ</text>
<text x="738.00" y="270.0" fill="#231f20" stroke="#231f20" stroke-width="0.22">DE</text>
<text x="736.80" y="286.0" fill="#231f20" stroke="#231f20" stroke-width="0.22">MD</text>
<text x="754.30" y="307.0" fill="#231f20" stroke="#231f20" stroke-width="0.22">DC</text>
</g>
</svg>
<div class="sw" style="top:404px;background:#6b9f30"></div>
<div class="lg" style="top:401px">Rural rate higher than<br>urban rate</div>
<div class="sw" style="top:451px;background:#012a5c"></div>
<div class="lg" style="top:447.5px">Urban rate higher than<br>rural rate</div>
<div class="sw" style="top:498px;background:#8096b3"></div>
<div class="lg" style="top:493.6px">No significant difference<br>between rural and urban<br>rates</div>
<div class="sw" style="top:563.7px;background:#b9d7a0"></div>
<div class="lg" style="top:560.5px">No rural counties in the<br>state or jurisdiction</div>
<div class="t n" style="top:641.8px">NOTES: Drug overdose deaths were identified using <i>International Classification of Diseases, 10th Revision</i> underlying cause-of-death codes X40–X44, X60–X64,</div>
<div class="t n" style="top:657.3px">X85, and Y10–Y14. Age-adjusted death rates were calculated using the direct method and the 2000 U.S. standard population. Decedent’s county of residence was</div>
<div class="t n" style="top:672.8px">classified as urban or rural based on the 2013 NCHS Urban–Rural Classification Scheme for Counties. Access data table for Figure 2 at:</div>
<div class="t n" style="top:688.2px">https://www.cdc.gov/nchs/data/databriefs/db403-tables-508.pdf#2.</div>
<div class="t n" style="top:703.5px">SOURCE: National Center for Health Statistics, National Vital Statistics System, Mortality.</div>
</body></html>
